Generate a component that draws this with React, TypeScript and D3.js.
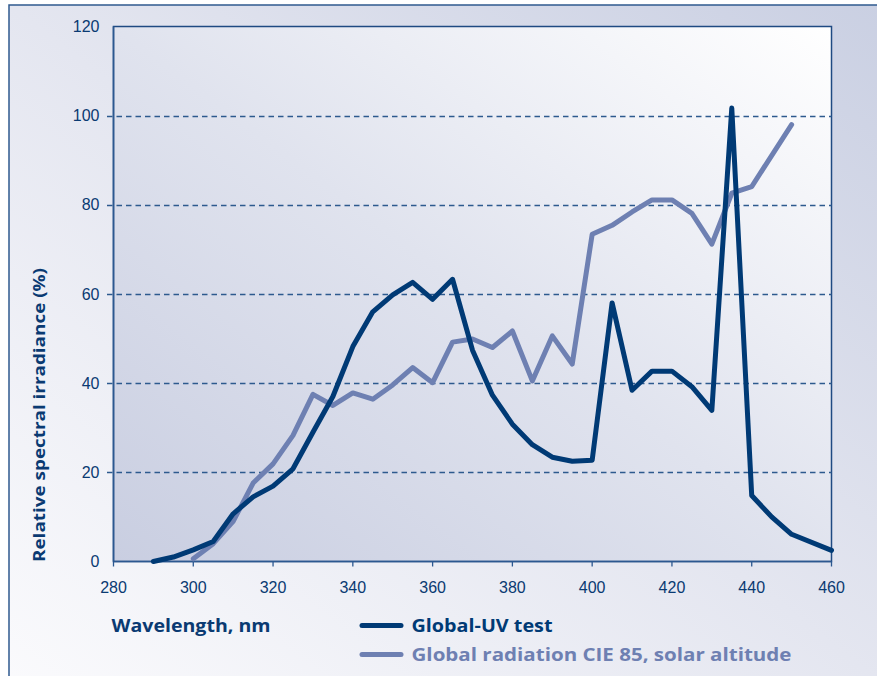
import React from "react";
import * as d3 from "d3";

const uvWavelengths = [290, 295, 300, 305, 310, 315, 320, 325, 330, 335, 340, 345, 350, 355, 360, 365, 370, 375, 380, 385, 390, 395, 400, 405, 410, 415, 420, 425, 430, 435, 440, 445, 450, 460];
const uvValues = [0, 1, 2.6, 4.5, 10.7, 14.5, 16.9, 20.8, 29, 37, 48.2, 56, 59.8, 62.6, 58.8, 63.3, 47.4, 37.3, 30.8, 26.2, 23.4, 22.5, 22.7, 58, 38.4, 42.7, 42.7, 39.2, 33.9, 101.7, 14.8, 10, 6.1, 2.5];

const cieWavelengths = [300, 305, 310, 315, 320, 325, 330, 335, 340, 345, 350, 355, 360, 365, 370, 375, 380, 385, 390, 395, 400, 405, 410, 415, 420, 425, 430, 435, 440, 450];
const cieValues = [0.6, 4, 9, 17.6, 21.9, 28.3, 37.5, 35, 37.8, 36.4, 39.6, 43.5, 40.1, 49.2, 49.9, 48, 51.7, 40.5, 50.6, 44.3, 73.4, 75.4, 78.4, 81.1, 81.1, 78.1, 71.2, 82.6, 84.1, 98];

const xTicks = [280, 300, 320, 340, 360, 380, 400, 420, 440, 460];
const yTicks = [0, 20, 40, 60, 80, 100, 120];
const gridValues = [20, 40, 60, 80, 100];

const seriesNames = ["Global-UV test", "Global radiation CIE 85, solar altitude"];
const xTitle = "Wavelength, nm";
const yTitle = "Relative spectral irradiance (%)";

const DARK = "#003a75";
const LIGHT = "#6e80b2";
const AXIS = "#2c5890";
const TEXT = "#0a3a72";

export default function App() {
  const W = 877, H = 676;
  const left = 113.5, right = 831.5, top = 26.5, bottom = 561.5;
  const x = d3.scaleLinear().domain([280, 460]).range([left, right]);
  const y = d3.scaleLinear().domain([0, 120]).range([bottom, top]);
  const line = d3.line<[number, number]>().x(d => x(d[0])).y(d => y(d[1]));
  const uvData = uvWavelengths.map((w, i) => [w, uvValues[i]] as [number, number]);
  const cieData = cieWavelengths.map((w, i) => [w, cieValues[i]] as [number, number]);
  const bold = { fontFamily: "Open Sans, sans-serif", fontWeight: 700, fontSize: 17 } as const;

  return (
    <div style={{ position: "fixed", left: 0, top: 0, width: W, height: H, background: "#fff" }}>
      <svg width={W} height={H} style={{ display: "block" }}>
        <defs>
          <linearGradient id="outerG" x1="0" y1="1" x2="1" y2="0">
            <stop offset="0" stopColor="#fbfbfd" />
            <stop offset="0.5" stopColor="#e4e6f0" />
            <stop offset="1" stopColor="#c9cfe2" />
          </linearGradient>
          <linearGradient id="innerG" x1="0" y1="1" x2="1" y2="0">
            <stop offset="0" stopColor="#c9cee1" />
            <stop offset="0.5" stopColor="#e0e3ee" />
            <stop offset="1" stopColor="#ffffff" />
          </linearGradient>
        </defs>
        <rect x={9} y={5} width={900} height={700} fill="url(#outerG)" stroke="#2f5a8e" strokeWidth={1.5} />
        <rect x={left} y={top} width={right - left} height={bottom - top} fill="url(#innerG)" stroke="#1f4a82" strokeWidth={1.5} />
        {gridValues.map(v => (
          <line key={v} x1={107} x2={right} y1={Math.round(y(v)) + 0.5} y2={Math.round(y(v)) + 0.5}
            stroke="#2d5a8e" strokeWidth={1.3} strokeDasharray="5.5,4" />
        ))}
        <line x1={left} x2={left} y1={top} y2={bottom} stroke={AXIS} strokeWidth={1.6} />
        <line x1={left} x2={right} y1={bottom} y2={bottom} stroke={AXIS} strokeWidth={1.6} />
        {xTicks.map(t => (
          <g key={t}>
            <line x1={x(t)} x2={x(t)} y1={bottom} y2={bottom + 5} stroke={AXIS} strokeWidth={1.3} />
            <text x={x(t)} y={592.5} textAnchor="middle" fontFamily="Liberation Sans, Arial, sans-serif" fontSize={16} fill={TEXT}>{t}</text>
          </g>
        ))}
        {yTicks.map(t => (
          <text key={t} x={99.5} y={y(t) + 5.5} textAnchor="end" fontFamily="Liberation Sans, Arial, sans-serif" fontSize={16} fill={TEXT}>{t}</text>
        ))}
        <path d={line(cieData) || ""} fill="none" stroke={LIGHT} strokeWidth={5} strokeLinejoin="round" strokeLinecap="round" />
        <path d={line(uvData) || ""} fill="none" stroke={DARK} strokeWidth={5} strokeLinejoin="round" strokeLinecap="round" />
        <text transform={`translate(44.5,562) rotate(-90)`} {...bold} fontSize={16.5} fill={TEXT} textLength={294} lengthAdjust="spacingAndGlyphs">{yTitle}</text>
        <text x={111.5} y={632} {...bold} fill={TEXT} textLength={159} lengthAdjust="spacingAndGlyphs">{xTitle}</text>
        <line x1={362} x2={401} y1={625.5} y2={625.5} stroke={DARK} strokeWidth={5} strokeLinecap="round" />
        <text x={411.5} y={632} {...bold} fill={DARK} textLength={141} lengthAdjust="spacingAndGlyphs">{seriesNames[0]}</text>
        <line x1={362} x2={401} y1={654.5} y2={654.5} stroke={LIGHT} strokeWidth={5} strokeLinecap="round" />
        <text x={411.5} y={661} {...bold} fill={LIGHT} textLength={380} lengthAdjust="spacingAndGlyphs">{seriesNames[1]}</text>
      </svg>
    </div>
  );
}
